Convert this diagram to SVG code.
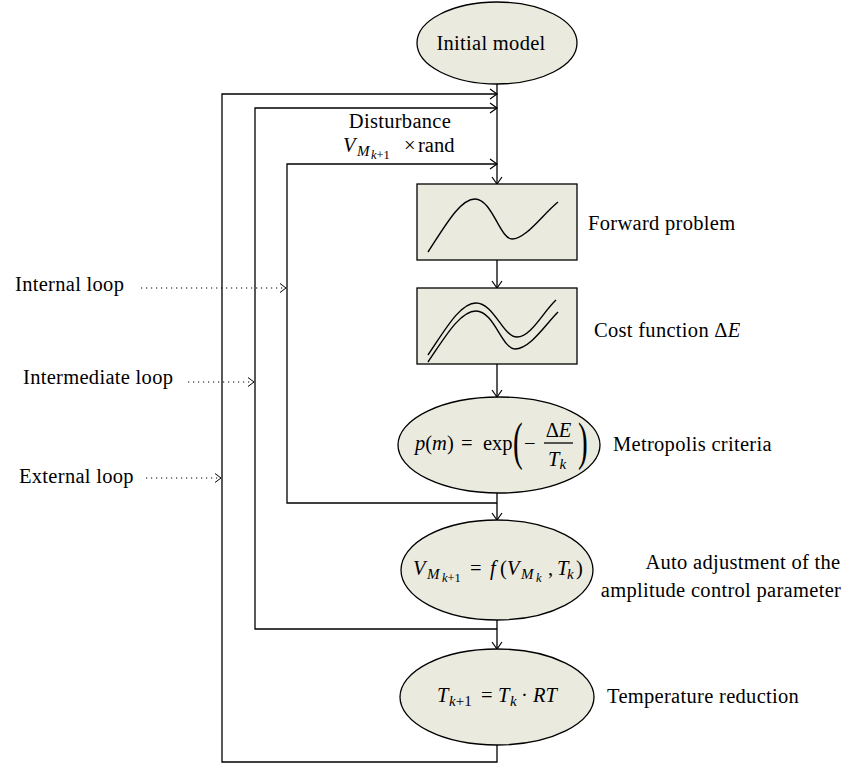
<svg xmlns="http://www.w3.org/2000/svg" width="848" height="765" viewBox="0 0 848 765">
<defs>
<marker id="arr" markerUnits="userSpaceOnUse" markerWidth="10" markerHeight="12" refX="8" refY="5" orient="auto" overflow="visible">
<path d="M1,0 L8,5 L1,10" fill="none" stroke="#000" stroke-width="1.2"/>
</marker>
<marker id="darr" markerUnits="userSpaceOnUse" markerWidth="10" markerHeight="12" refX="7" refY="5" orient="auto" overflow="visible">
<path d="M1,0.5 L7,5 L1,9.5" fill="none" stroke="#000" stroke-width="1"/>
</marker>
</defs>
<style>
.n{fill:#ebeadf;stroke:#000;stroke-width:1.3}
.c{fill:none;stroke:#000;stroke-width:1.3}
.d{fill:none;stroke:#000;stroke-width:1.1;stroke-dasharray:1.2 3.8}
.cv{fill:none;stroke:#000;stroke-width:1.4}
text{font-family:"Liberation Serif","Times New Roman",serif;font-size:20.5px;fill:#000}
.l{letter-spacing:0.3px}
.i{font-style:italic}
.s{font-size:15px}
.ss{font-size:12.5px}
.p{font-size:53px}
</style>
<g id="connectors">
<path class="c" d="M497,84 V184" marker-end="url(#arr)"/>
<path class="c" d="M497,260 V288" marker-end="url(#arr)"/>
<path class="c" d="M497,364 V397" marker-end="url(#arr)"/>
<path class="c" d="M497,493 V520" marker-end="url(#arr)"/>
<path class="c" d="M497,620 V649" marker-end="url(#arr)"/>
<path class="c" d="M497,745 V762 H222 V94 H497" marker-end="url(#arr)"/>
<path class="c" d="M497,629 H255 V108 H497" marker-end="url(#arr)"/>
<path class="c" d="M497,503 H287 V164 H497" marker-end="url(#arr)"/>
<path class="d" d="M141,288 H286" marker-end="url(#darr)"/>
<path class="d" d="M188,382 H254" marker-end="url(#darr)"/>
<path class="d" d="M146,478 H221" marker-end="url(#darr)"/>
</g>
<g id="initial-model">
<ellipse class="n" cx="497" cy="43" rx="80" ry="41"/>
<text class="l" x="491" y="50" text-anchor="middle">Initial model</text>
</g>
<g id="disturbance-label">
<text class="l" x="400" y="128" text-anchor="middle">Disturbance</text>
<text><tspan class="i" x="343" y="152">V</tspan><tspan class="i s" x="357" y="156">M</tspan><tspan class="i ss" x="371" y="159">k</tspan><tspan class="ss">+1</tspan><tspan x="404" y="152">×</tspan><tspan x="418" y="152">rand</tspan></text>
</g>
<g id="forward-problem">
<rect class="n" x="417" y="184" width="160" height="76"/>
<path class="cv" d="M428,252 C445,226 460,199 475,199 C492,199 500,239 512,239 C526,239 542,215 558,202"/>
<text class="l" x="588" y="230">Forward problem</text>
</g>
<g id="cost-function">
<rect class="n" x="417" y="288" width="160" height="76"/>
<path class="cv" d="M428,355 C445,330 460,303 476,303 C494,303 503,337 517,337 C531,337 543,312 556,300"/>
<path class="cv" d="M428,362 C445,337 460,311 476,311 C494,311 502,349 515,349 C530,349 545,325 558,312"/>
<text class="l" x="594" y="337">Cost function Δ<tspan class="i">E</tspan></text>
</g>
<g id="metropolis">
<ellipse class="n" cx="499" cy="445" rx="101" ry="48"/>
<text x="415" y="450"><tspan class="i">p</tspan>(<tspan class="i">m</tspan>)<tspan x="461">=</tspan><tspan x="483">exp</tspan></text>
<text class="p" transform="translate(513,459) scale(0.55,1)">(</text>
<text x="524" y="450">−</text>
<text x="558.5" y="437" text-anchor="middle">Δ<tspan class="i">E</tspan></text>
<path d="M544,443 H573" stroke="#000" stroke-width="1.3"/>
<text x="548" y="466"><tspan class="i">T</tspan><tspan class="i s" dy="3">k</tspan></text>
<text class="p" transform="translate(578,459) scale(0.55,1)">)</text>
<text class="l" x="613" y="451">Metropolis criteria</text>
</g>
<g id="amplitude-adjust">
<ellipse class="n" cx="497" cy="570" rx="96" ry="50"/>
<text><tspan class="i" x="413" y="575">V</tspan><tspan class="i s" x="427" y="579">M</tspan><tspan class="i ss" x="442" y="582">k</tspan><tspan class="ss">+1</tspan><tspan x="470" y="575">=</tspan><tspan class="i" x="490" y="575">f</tspan><tspan x="500" y="575">(</tspan><tspan class="i" x="507" y="575">V</tspan><tspan class="i s" x="521" y="579">M</tspan><tspan class="i ss" x="536" y="582">k</tspan><tspan x="548" y="575">,</tspan><tspan class="i" x="557" y="575">T</tspan><tspan class="i s" x="567" y="579">k</tspan><tspan x="576" y="575">)</tspan></text>
<text class="l" x="743" y="569" text-anchor="middle">Auto adjustment of the</text>
<text class="l" x="721" y="597" text-anchor="middle">amplitude control parameter</text>
</g>
<g id="temperature-reduction">
<ellipse class="n" cx="497" cy="697" rx="97" ry="48"/>
<text><tspan class="i" x="437" y="702">T</tspan><tspan class="i s" x="449" y="706">k</tspan><tspan class="s">+1</tspan><tspan x="481" y="702">=</tspan><tspan class="i" x="498" y="702">T</tspan><tspan class="i s" x="510" y="706">k</tspan><tspan x="521" y="702">·</tspan><tspan class="i" x="533" y="702">RT</tspan></text>
<text class="l" x="607" y="703">Temperature reduction</text>
</g>
<g id="loop-labels">
<text class="l" x="15" y="291">Internal loop</text>
<text class="l" x="23" y="384">Intermediate loop</text>
<text class="l" x="19" y="483">External loop</text>
</g>
</svg>
